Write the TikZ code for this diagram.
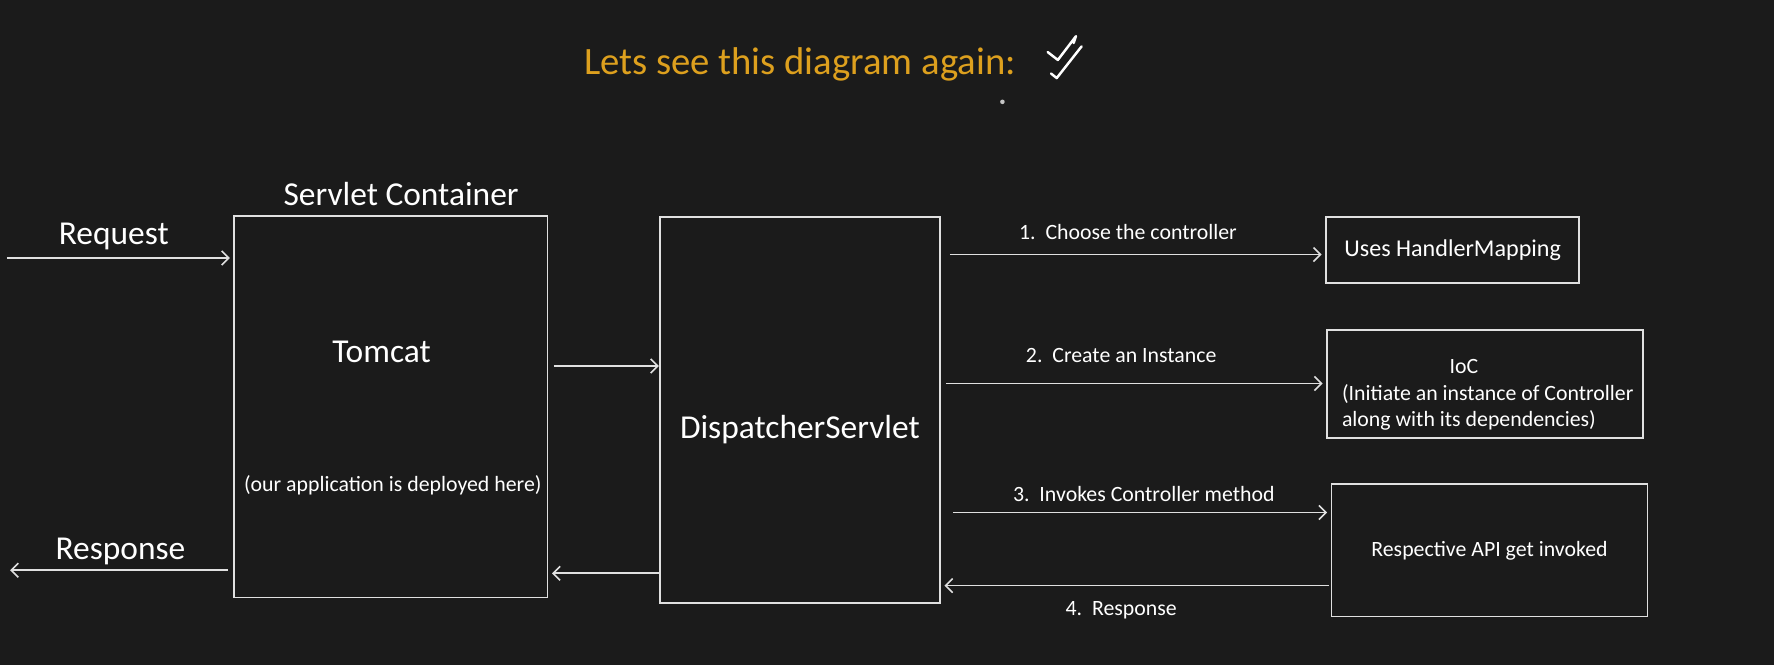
\documentclass[tikz,border=0pt]{standalone}
\usepackage{fontspec}
\setmainfont{Carlito}
\usepackage{xcolor}
\usetikzlibrary{positioning}
\usetikzlibrary{arrows.meta}
\definecolor{bgdark}{RGB}{27,27,27}
\definecolor{linegray}{RGB}{224,224,224}
\definecolor{titleorange}{RGB}{221,160,30}

\begin{document}
\begin{tikzpicture}[
    x=0.0226cm, y=-0.0226cm,% one unit per pixel of the screenshot
    >={Straight Barb[length=4pt,width=8pt]},
       box/.style = {draw=linegray, line width=1pt, inner sep=0pt},% nodes style
       big/.style = {text=white, font=\fontsize{19}{23}\selectfont},
     small/.style = {text=white, font=\fontsize{12.4}{14.9}\selectfont},
      flow/.style = {->, draw=linegray, line width=0.9pt, shorten <=3pt, shorten >=2pt}
    ]
    \fill[bgdark] (0,0) rectangle (1568,588);
    \useasboundingbox (0,0) rectangle (1568,588);
    % title
    \node (title) [text=titleorange, font=\fontsize{22}{26}\selectfont] at (707,57) {Lets see this diagram again:};
    \draw[white, line width=1.4pt, line cap=round, line join=round]
        (926,46) -- (935,53) -- (951,32) -- (949,38)
        (929,65) -- (934,69) -- (956,41);
    \fill[white!75!bgdark] (886,90) circle (1.3pt);
    % boxes
    \node (tomcat) [box, minimum width=6.26cm, minimum height=7.62cm] at (345.5,359.5) {};
    \node (ds) [box, minimum width=5.60cm, minimum height=7.71cm] at (707,362.5) {};
    \node (hm) [box, minimum width=5.06cm, minimum height=1.31cm, text=white,
        font=\fontsize{13.7}{16}\selectfont] at (1284,221) {Uses HandlerMapping};
    \node (ioc) [box, minimum width=6.31cm, minimum height=2.15cm] at (1312.5,339.5) {};
    \node (api) [box, small, minimum width=6.31cm, minimum height=2.64cm] at (1316.5,486.5) {Respective API get invoked};
    % texts
    \node (sc) [big] at (354.5,171.5) {Servlet Container};
    \node (tc) [big] at (337.3,311) {Tomcat};
    \node (deploy) [small] at (347.2,429) {(our application is deployed here)};
    \node (dstext) [big] at (707,380) {DispatcherServlet};
    \node (ioctext) [small, align=left] at (1315,349)
        {\hspace*{2.15cm}IoC\\(Initiate an instance of Controller\\along with its dependencies)};
    \node (reqtext) [big] at (100.6,209) {Request};
    \node (restext) [big] at (106.5,487) {Response};
    \node (l1) [small] at (997,205) {1.~~Choose the controller};
    \node (l2) [small] at (991,314) {2.~~Create an Instance};
    \node (l3) [small] at (1011,437) {3.~~Invokes Controller method};
    \node (l4) [small] at (991,539) {4.~~Response};
    % connectors
    \coordinate (reqin) at (6,228);
    \coordinate (resout) at (9,504);
    \draw[flow, shorten <=0pt] (reqin) -- (tomcat.west |- reqin);
    \draw[flow, shorten >=0pt] (tomcat.west |- resout) -- (resout);
    \draw[flow, shorten >=0pt] (tomcat.east |- 0,323.5) -- (ds.west |- 0,323.5);
    \draw[flow, shorten <=0pt] (ds.west |- 0,506.7) -- (tomcat.east |- 0,506.7);
    \draw[flow, shorten <=5pt] (ds.east |- 0,225) -- (hm.west |- 0,225);
    \draw[flow] (ds.east |- 0,339) -- (ioc.west |- 0,339);
    \draw[flow, shorten <=7pt] (ds.east |- 0,453) -- (api.west |- 0,453);
    \draw[flow, shorten <=1pt] (api.west |- 0,517.6) -- (ds.east |- 0,517.6);
\end{tikzpicture}
\end{document}
